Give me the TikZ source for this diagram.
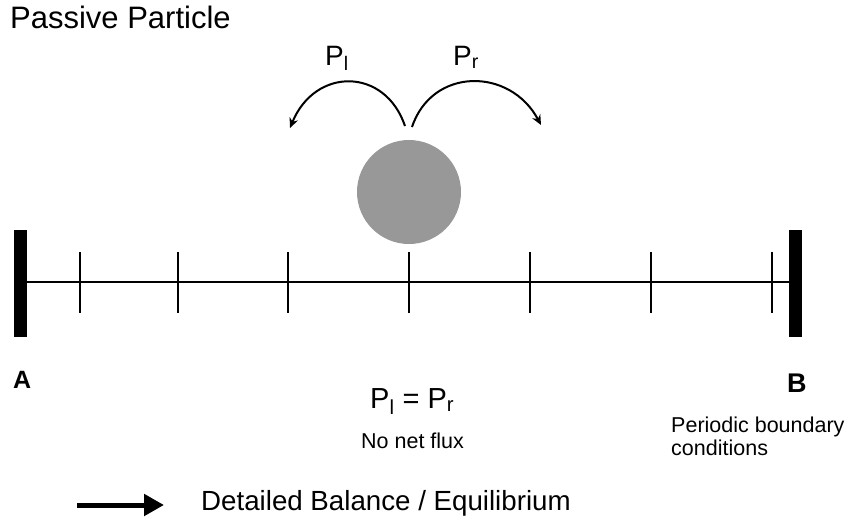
\documentclass[tikz,border=0pt]{standalone}
\usepackage{fontspec}
\setmainfont{Liberation Sans}
\usetikzlibrary{arrows.meta}
\newcommand{\fs}[1]{\fontsize{#1}{#1}\selectfont}
\definecolor{ballgray}{RGB}{152,152,152}
\begin{document}
\begin{tikzpicture}[x=1pt,y=-1pt,
  wall/.style={fill=black},
  tick/.style={line width=1.5pt},
  axis/.style={line width=1.5pt},
  hop/.style={line width=2pt,-{Stealth[length=10pt,width=9pt]}},
  txt/.style={anchor=base west,inner sep=0pt},
  lab/.style={anchor=base west,inner sep=0pt,font=\fs{26}\bfseries}]
\useasboundingbox (0,0) rectangle (849,520);
\node[txt,font=\fs{31}] (title) at (10,28) {Passive Particle};
% walls
\fill[wall] (14,230) rectangle (27,337);
\fill[wall] (789,230) rectangle (802,337);
\coordinate (L) at (27,282);
\coordinate (R) at (789,282);
\draw[axis] (L) -- (R);
\foreach \x in {80,178,288,409,530,651,772}
  \draw[tick] (\x,252) -- (\x,313);
% particle
\fill[ballgray] (409,192) circle (52);
% hops
\coordinate (sl) at (405,126);
\coordinate (el) at (290,128);
\coordinate (sr) at (412,127);
\coordinate (er) at (541,125);
\draw[hop] (sl) .. controls (385,67) and (315,67) .. (el);
\draw[hop] (sr) .. controls (432,67) and (510,67) .. (er);
\node[txt,font=\fs{28}] (pl) at (325,65) {P\textsubscript{l}};
\node[txt,font=\fs{28}] (pr) at (453,65) {P\textsubscript{r}};
% labels
\node[lab,font=\fs{25}\bfseries] (A) at (13,388) {A};
\node[lab,font=\fs{27}\bfseries] (B) at (787,392) {B};
\node[txt,font=\fs{29}] (eq) at (370,408) {P\textsubscript{l} = P\textsubscript{r}};
\node[txt,font=\fs{21.5}] (flux) at (361,448) {No net flux};
\node[txt,font=\fs{21.5}] (pbc1) at (671,432) {Periodic boundary};
\node[txt,font=\fs{21.5}] (pbc2) at (671,455) {conditions};
% legend
\coordinate (a0) at (77,505);
\coordinate (a1) at (164,505);
\draw[line width=5pt,-{Triangle[length=20pt,width=21pt]}] (a0) -- (a1);
\node[txt,font=\fs{27.7}] (leg) at (201,510) {Detailed Balance / Equilibrium};
\end{tikzpicture}
\end{document}
